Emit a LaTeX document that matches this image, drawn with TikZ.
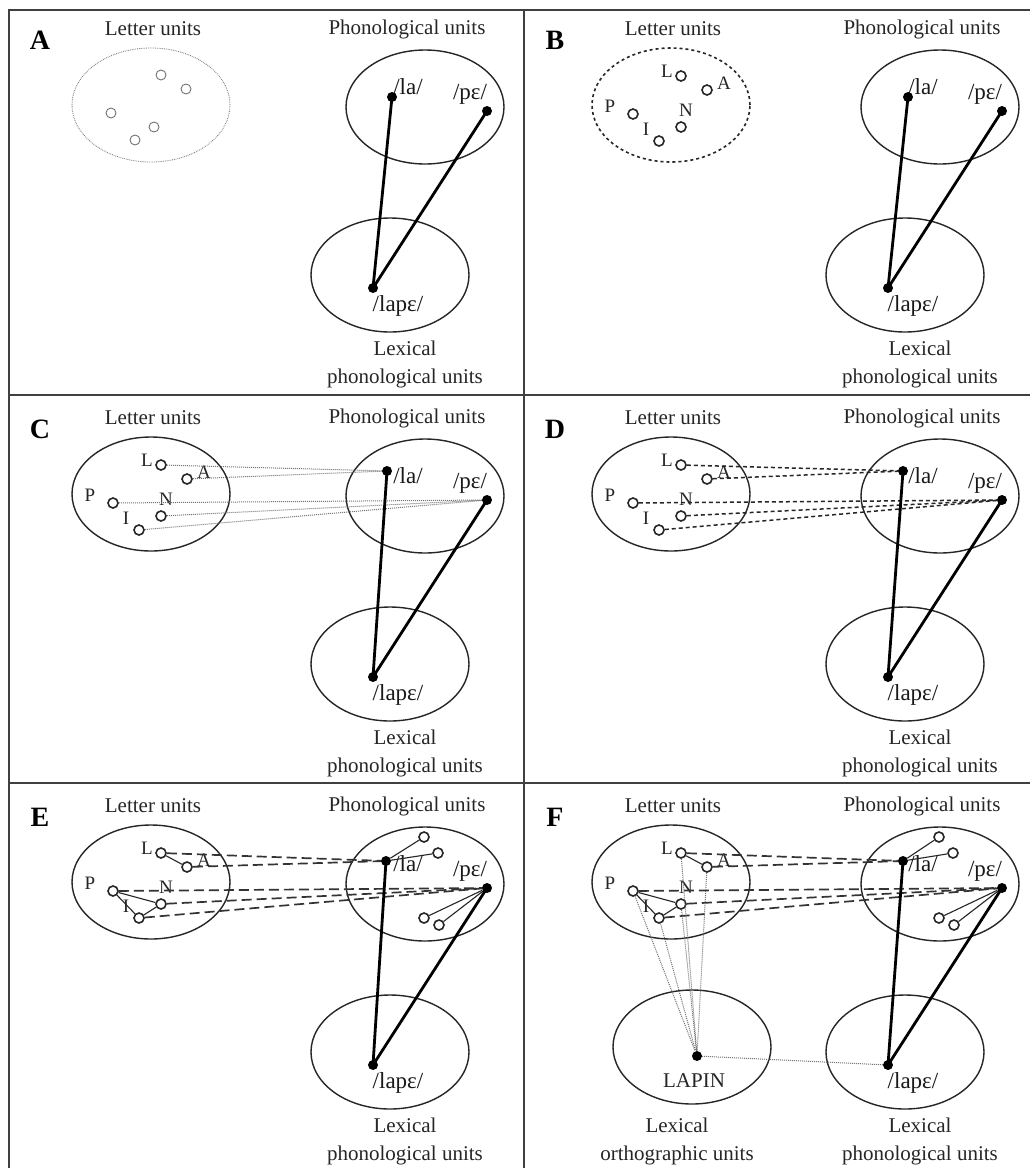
\documentclass[tikz,border=0pt]{standalone}
\usepackage{fontspec}
\setmainfont{Liberation Serif}
\usetikzlibrary{shapes.geometric}
\tikzset{
 head/.style={font=\fontsize{21}{24}\selectfont, text=black!85, inner sep=0},
 twoline/.style={font=\fontsize{21}{28}\selectfont, text=black!85, inner sep=0, align=center},
 plab/.style={font=\fontsize{28}{30}\selectfont\bfseries, inner sep=0},
 ell/.style={ellipse, draw=black!85, line width=1.4pt, minimum width=158pt, minimum height=114pt, inner sep=0},
 ellA/.style={draw=black!55, line width=0.8pt, densely dotted},
 ellB/.style={dash pattern=on 3pt off 3pt, line width=1.6pt},
 lu/.style={circle, draw=black!85, line width=1.6pt, minimum size=10pt, inner sep=0},
 luA/.style={circle, draw=black!55, line width=0.9pt, minimum size=10pt, inner sep=0},
 dotn/.style={circle, fill=black, minimum size=10pt, inner sep=0},
 ulab/.style={font=\fontsize{19}{21}\selectfont, text=black!85, inner sep=0},
 phlab/.style={font=\fontsize{23}{25}\selectfont, text=black!90, inner sep=0},
 strong/.style={line width=2.8pt, black},
 cdot/.style={densely dotted, line width=1pt, black!55},
 cdash/.style={dash pattern=on 4pt off 3pt, line width=1.5pt, black!85},
 clong/.style={dash pattern=on 10pt off 5pt, line width=1.7pt, black!80},
 link/.style={line width=1.1pt, black!85},
 border/.style={line width=2.5pt, black!75},
}
\newcommand{\paneltag}[2]{\node[plab] (#1-tag) at (40,40) {#2};}
\newcommand{\letterhead}[2]{%
 \node[head] (#1-lut) at (153,29) {Letter units};
 \node[ell,#2] (#1-ltE) at (151,105) {};}
\newcommand{\letterset}[1]{%
 \node[lu] (#1-L) at (161,76) {};
 \node[lu] (#1-A) at (187,90) {};
 \node[lu] (#1-P) at (113,114) {};
 \node[lu] (#1-N) at (161,127) {};
 \node[lu] (#1-I) at (139,141) {};
 \node[ulab] (#1-Lt) at (147,71) {L};
 \node[ulab] (#1-At) at (204,83) {A};
 \node[ulab] (#1-Pt) at (90,106) {P};
 \node[ulab] (#1-Nt) at (166,110) {N};
 \node[ulab] (#1-It) at (126,129) {I};}
\newcommand{\phonbase}[2]{%
 \node[head] (#1-pht) at (407,29) {Phonological units};
 \node[ell] (#1-phE) at (425,107) {};
 \node[ell] (#1-lxE) at (390,275) {};
 \node[phlab] (#1-laT) at (408,87) {/la/};
 \node[phlab] (#1-peT) at (470,94) {/pɛ/};
 \node[phlab] (#1-lapT) at (398,306) {/lapɛ/};
 \node[twoline] (#1-lexT) at (405,364) {Lexical\\phonological units};
 \node[dotn] (#1-la) at #2 {};
 \node[dotn] (#1-pe) at (487,111) {};
 \node[dotn] (#1-lap) at (373,288) {};}
\newcommand{\phonlinks}[1]{%
 \draw[strong] (#1-la.center) -- (#1-lap.center);
 \draw[strong] (#1-pe.center) -- (#1-lap.center);}
\newcommand{\phonextra}[1]{%
 \node[lu] (#1-c1) at (424,60) {};
 \node[lu] (#1-c2) at (438,76) {};
 \node[lu] (#1-c3) at (424,141) {};
 \node[lu] (#1-c4) at (439,148) {};
 \draw[link] (#1-la) -- (#1-c1);
 \draw[link] (#1-la) -- (#1-c2);
 \draw[link] (#1-pe) -- (#1-c3);
 \draw[link] (#1-pe) -- (#1-c4);}
\newcommand{\lpconn}[2]{%
 \draw[#2] (#1-L) -- (#1-la);
 \draw[#2] (#1-A) -- (#1-la);
 \draw[#2] (#1-P) -- (#1-pe);
 \draw[#2] (#1-N) -- (#1-pe);
 \draw[#2] (#1-I) -- (#1-pe);}
\newcommand{\letterlinks}[1]{%
 \draw[link] (#1-L) -- (#1-A);
 \draw[link] (#1-P) -- (#1-N);
 \draw[link] (#1-P) -- (#1-I);
 \draw[link] (#1-I) -- (#1-N);}
\begin{document}
\begin{tikzpicture}[x=1pt,y=-1pt]
\useasboundingbox (0,0) rectangle (1030,1168);
\fill[white] (0,0) rectangle (1030,1168);
% frame
\draw[border] (9,1168) -- (9,10) -- (1030,10);
\draw[border] (524,10) -- (524,1168);
\draw[border] (9,395) -- (1030,395);
\draw[border] (9,783) -- (1030,783);
% ---------- A ----------
\begin{scope}
 \paneltag{A}{A}
 \letterhead{A}{ellA}
 \node[luA] (A-u1) at (161,75) {};
 \node[luA] (A-u2) at (186,89) {};
 \node[luA] (A-u3) at (111,113) {};
 \node[luA] (A-u4) at (154,127) {};
 \node[luA] (A-u5) at (135,140) {};
 \phonbase{A}{(392,97)}
 \phonlinks{A}
\end{scope}
% ---------- B ----------
\begin{scope}[shift={(515,0)}]
 \paneltag{B}{B}
 \begin{scope}[shift={(5,0)}]
  \letterhead{B}{ellB}
  \letterset{B}
 \end{scope}
 \phonbase{B}{(393,97)}
 \phonlinks{B}
\end{scope}
% ---------- C ----------
\begin{scope}[shift={(0,389)}]
 \paneltag{C}{C}
 \letterhead{C}{}
 \letterset{C}
 \phonbase{C}{(387,82)}
 \lpconn{C}{cdot}
 \phonlinks{C}
\end{scope}
% ---------- D ----------
\begin{scope}[shift={(515,389)}]
 \paneltag{D}{D}
 \begin{scope}[shift={(5,0)}]
  \letterhead{D}{}
  \letterset{D}
 \end{scope}
 \phonbase{D}{(388,82)}
 \lpconn{D}{cdash}
 \phonlinks{D}
\end{scope}
% ---------- E ----------
\begin{scope}[shift={(0,777)}]
 \paneltag{E}{E}
 \letterhead{E}{}
 \letterset{E}
 \letterlinks{E}
 \phonbase{E}{(386,84)}
 \lpconn{E}{clong}
 \phonextra{E}
 \phonlinks{E}
\end{scope}
% ---------- F ----------
\begin{scope}[shift={(515,777)}]
 \paneltag{F}{F}
 \begin{scope}[shift={(5,0)}]
  \letterhead{F}{}
  \letterset{F}
  \letterlinks{F}
 \end{scope}
 \phonbase{F}{(388,84)}
 \node[ell] (F-oE) at (177,270) {};
 \node[head] (F-lapinT) at (179,304) {LAPIN};
 \node[twoline] (F-olexT) at (162,364) {Lexical\\orthographic units};
 \node[dotn] (F-lapin) at (182,279) {};
 \lpconn{F}{clong}
 \draw[cdot] (F-L) -- (F-lapin);
 \draw[cdot] (F-A) -- (F-lapin);
 \draw[cdot] (F-P) -- (F-lapin);
 \draw[cdot] (F-N) -- (F-lapin);
 \draw[cdot] (F-I) -- (F-lapin);
 \draw[cdot] (F-lapin) -- (F-lap);
 \phonextra{F}
 \phonlinks{F}
\end{scope}
\end{tikzpicture}
\end{document}
